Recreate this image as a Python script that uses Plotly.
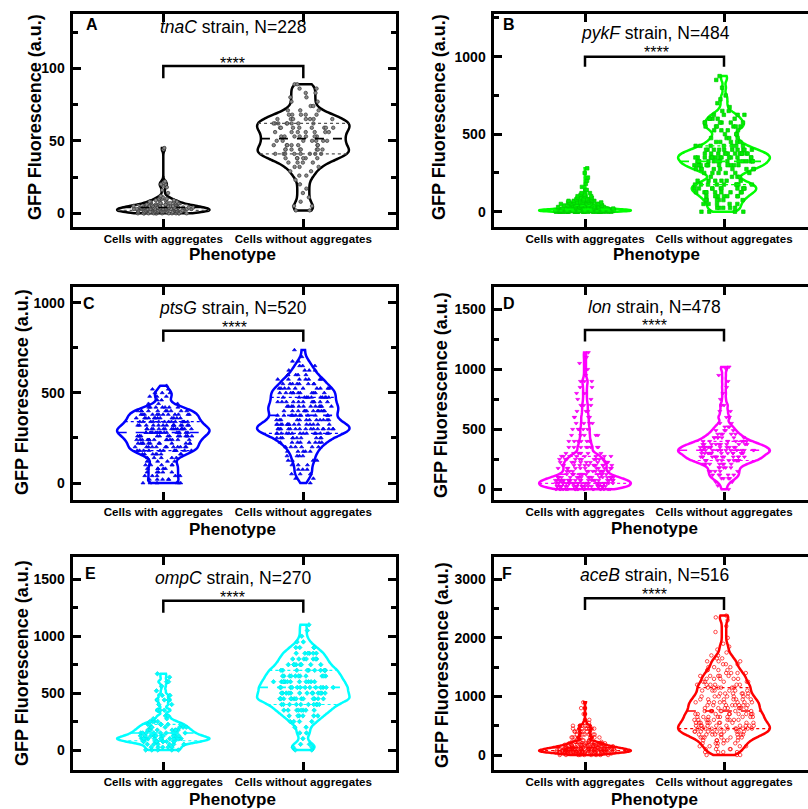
import numpy as np
import plotly.graph_objects as go

W, H = 808, 809
FONT = "Arial, 'Liberation Sans', Helvetica, sans-serif"

# ---------------- data ----------------
CATEGORIES = ["Cells with aggregates", "Cells without aggregates"]
PANEL_LETTERS = ["A", "B", "C", "D", "E", "F"]
GENES = ["tnaC", "pykF", "ptsG", "lon", "ompC", "aceB"]
N_CELLS = [228, 484, 520, 478, 270, 516]
SIGNIFICANCE = "****"
Y_AXIS_TITLE = "GFP Fluorescence (a.u.)"
X_AXIS_TITLE = "Phenotype"

# Frequency tables (value, count) estimated from each violin
A_WITH_VALUES = [0, 1, 2, 3, 4, 5, 6, 7, 8, 9, 10, 11, 12, 14, 16, 18, 19, 20, 21, 22, 44, 45]
A_WITH_COUNTS = [14, 16, 17, 17, 15, 11, 8, 6, 5, 4, 3, 2, 1, 1, 1, 1, 1, 2, 1, 1, 1, 1]
A_WITHOUT_VALUES = [2, 5, 8, 11, 14, 17, 20, 23, 26, 29, 32, 35, 38, 41, 44, 47, 50, 53, 56, 59,
                    62, 65, 68, 71, 74, 77, 80, 83, 86, 89]
A_WITHOUT_COUNTS = [2, 2, 1, 1, 1, 1, 1, 1, 2, 2, 3, 4, 6, 8, 8, 7, 7, 7, 7, 8,
                    8, 7, 5, 3, 2, 2, 2, 2, 2, 2]

B_WITH_VALUES = [0, 5, 10, 15, 20, 30, 40, 50, 60, 70, 80, 90, 100, 110, 120, 140, 160, 180, 200,
                 220, 250, 280]
B_WITH_COUNTS = [30, 45, 40, 30, 22, 15, 14, 13, 10, 7, 5, 3, 3, 2, 2, 2, 1, 1, 1, 1, 1, 1]
B_WITHOUT_VALUES = [0, 25, 50, 75, 100, 125, 150, 175, 200, 225, 250, 275, 300, 325, 350, 375, 400,
                    425, 450, 475, 500, 525, 550, 575, 600, 625, 650, 675, 700, 725, 750, 800, 850, 875]
B_WITHOUT_COUNTS = [4, 5, 5, 6, 7, 9, 10, 9, 6, 4, 6, 9, 12, 13, 14, 13, 10,
                    7, 5, 4, 3, 4, 6, 6, 5, 4, 2, 1, 1, 1, 1, 1, 1, 1]

C_WITH_VALUES = [0, 20, 40, 60, 80, 100, 120, 140, 160, 180, 200, 220, 240, 260, 280, 300, 320, 340,
                 360, 380, 400, 420, 440, 460, 480, 500, 520, 540]
C_WITH_COUNTS = [6, 5, 5, 5, 5, 5, 4, 5, 8, 11, 12, 12, 13, 14, 16, 16, 14, 13,
                 12, 12, 10, 7, 3, 2, 3, 3, 2, 1]
C_WITHOUT_VALUES = [0, 25, 50, 75, 100, 125, 150, 175, 200, 225, 250, 275, 300, 325, 350, 375, 400,
                    425, 450, 475, 500, 525, 550, 575, 600, 625, 650, 675, 700, 738]
C_WITHOUT_COUNTS = [1, 2, 3, 3, 3, 4, 4, 5, 6, 8, 10, 14, 17, 15, 12, 11, 12,
                    12, 11, 11, 11, 10, 8, 7, 5, 4, 3, 2, 1, 1]

D_WITH_VALUES = [0, 25, 50, 75, 100, 125, 150, 175, 200, 225, 250, 275, 300, 350, 400, 450, 500,
                 550, 600, 650, 700, 750, 800, 850, 900, 950, 1000, 1050, 1100, 1140]
D_WITH_COUNTS = [20, 24, 26, 24, 18, 12, 11, 11, 12, 11, 10, 8, 7, 8, 6, 5, 5,
                 4, 4, 3, 3, 2, 2, 2, 3, 1, 1, 1, 1, 1]
D_WITHOUT_VALUES = [0, 30, 60, 90, 120, 150, 180, 210, 240, 270, 300, 325, 350, 375, 400, 430, 460,
                    490, 520, 550, 600, 650, 700, 750, 800, 850, 900, 950, 1000, 1020]
D_WITHOUT_COUNTS = [1, 1, 2, 4, 5, 5, 5, 7, 11, 13, 13, 13, 12, 10, 8, 7, 5,
                    4, 3, 2, 3, 2, 2, 1, 1, 1, 1, 1, 1, 1]

E_WITH_VALUES = [0, 25, 50, 75, 100, 125, 150, 175, 200, 225, 250, 275, 300, 350, 400, 440, 480,
                 520, 560, 600, 640, 670]
E_WITH_COUNTS = [5, 5, 6, 11, 14, 11, 9, 8, 7, 6, 4, 2, 2, 3, 2, 3, 2, 1, 1, 2, 1, 1]
E_WITHOUT_VALUES = [0, 25, 50, 100, 150, 200, 250, 300, 350, 400, 450, 500, 550, 600, 650, 700, 750,
                    800, 850, 900, 950, 1000, 1050, 1100]
E_WITHOUT_COUNTS = [2, 2, 2, 1, 2, 2, 4, 6, 8, 10, 14, 13, 13, 12, 11, 10, 8,
                    7, 6, 4, 2, 1, 1, 1]

F_WITH_VALUES = [0, 25, 50, 75, 100, 125, 150, 175, 200, 225, 250, 300, 350, 400, 450, 500, 550,
                 600, 700, 800, 900]
F_WITH_COUNTS = [9, 16, 26, 29, 25, 20, 16, 12, 10, 7, 5, 8, 6, 6, 7, 6, 2, 1, 1, 1, 1]
F_WITHOUT_VALUES = [0, 50, 100, 150, 200, 250, 300, 350, 400, 450, 500, 550, 600, 650, 700, 750,
                    800, 850, 900, 950, 1000, 1050, 1100, 1150, 1200, 1250, 1300, 1350, 1400, 1450,
                    1500, 1550, 1600, 1650, 1700, 1750, 1800, 1850, 1900, 2000, 2100, 2200, 2300,
                    2350, 2380]
F_WITHOUT_COUNTS = [3, 4, 4, 5, 5, 6, 7, 9, 10, 11, 10, 10, 9, 9, 9, 8,
                    8, 8, 8, 7, 7, 6, 6, 6, 6, 5, 5, 5, 4, 4,
                    3, 3, 3, 2, 2, 1, 1, 1, 1, 1, 1, 1, 1,
                    1, 1]

GROUPS = [
    [(A_WITH_VALUES, A_WITH_COUNTS), (A_WITHOUT_VALUES, A_WITHOUT_COUNTS)],
    [(B_WITH_VALUES, B_WITH_COUNTS), (B_WITHOUT_VALUES, B_WITHOUT_COUNTS)],
    [(C_WITH_VALUES, C_WITH_COUNTS), (C_WITHOUT_VALUES, C_WITHOUT_COUNTS)],
    [(D_WITH_VALUES, D_WITH_COUNTS), (D_WITHOUT_VALUES, D_WITHOUT_COUNTS)],
    [(E_WITH_VALUES, E_WITH_COUNTS), (E_WITHOUT_VALUES, E_WITHOUT_COUNTS)],
    [(F_WITH_VALUES, F_WITH_COUNTS), (F_WITHOUT_VALUES, F_WITHOUT_COUNTS)],
]

# ---------------- styles ----------------
LINE_COLORS = ["#000000", "#00FF00", "#0000FF", "#FF00FF", "#00FFFF", "#FF0000"]
QUART_COLORS = ["#555555", "#00FF00", "#0000FF", "#FF00FF", "#00FFFF", "#FF0000"]
POINT_FILL = ["#8a8a8a", "#00EE00", "#0000FF", "#FF00FF", "#00FFFF", "#FF0000"]
POINT_EDGE = ["#333333", "#00CC00", "#0000DD", "#EE00EE", "#00E5E5", "#FF0000"]
SYMBOLS = ["circle", "square", "triangle-up", "triangle-down", "diamond", "circle-open"]
POINT_SIZE = [3.5, 3.5, 3.5, 3.5, 3.5, 3.5]
BANDWIDTHS = [[1.5, 3.0], [7, 18], [16, 20], [25, 22], [15, 30], [18, 55]]
VIOLIN_WIDTH = 0.66

# ---------------- layout calibration (pixels) ----------------
DOM_X = [(72.5, 395.5), (493.5, 808), (72.5, 395.5), (493.5, 808), (72.5, 395.5), (493.5, 808)]
DOM_Y = [(13.5, 226.5), (13.5, 226.5), (286.5, 499.5), (286.5, 499.5), (556.5, 769.5), (556.5, 769.5)]
X_CAL = [(163.3, 140), (585, 139)] * 3            # (px of category 0, px per unit)
Y_CAL = [(213.3, 1.45), (211.7, 0.155), (483, 0.1803), (489.3, 0.12), (750, 0.1138), (755, 0.05857)]
Y_DTICK = [50, 500, 500, 500, 500, 1000]
BRACKETS = [(93.1, 101.6), (935, 1000), (784, 845), (1231, 1328), (1207, 1312), (2476, 2675)]
TITLE_PX = [(233, 26.7), (655, 33.3), (233, 308), (654, 306.7), (233, 578), (654, 575)]
STAR_PX = [(233, 59.3), (656, 48.3), (235, 323.3), (654, 321.7), (233, 593.3), (654, 590)]
LETTER_PX = [(91.5, 25), (509, 25), (89, 303), (509, 303), (90, 573), (507, 573)]
YTITLE_PX = [(35, 117), (439, 117), (22, 392), (441, 395), (22, 663), (442, 665)]
XTITLE_PX = [(233, 254), (656, 254), (233, 529), (654, 528), (233, 799), (654, 799)]


def px(x):
    return x / W


def py(y):
    return 1 - y / H


def density(vals, bw, t):
    t = np.atleast_1d(np.asarray(t, float))
    return np.exp(-0.5 * ((t[:, None] - vals[None, :]) / bw) ** 2).sum(axis=1)


fig = go.Figure()
annotations = []

for i in range(6):
    sfx = "" if i == 0 else str(i + 1)
    xref, yref = "x" + sfx, "y" + sfx

    for g, (vals, counts) in enumerate(GROUPS[i]):
        data = np.repeat(np.asarray(vals, float), counts)
        bw = BANDWIDTHS[i][g]
        fig.add_trace(go.Violin(
            x0=g, y=data, xaxis=xref, yaxis=yref, name=CATEGORIES[g],
            width=VIOLIN_WIDTH, spanmode="hard", bandwidth=bw, scalemode="width",
            points="all", pointpos=0, jitter=0.65,
            line=dict(color=LINE_COLORS[i], width=2.5),
            fillcolor="rgba(255,255,255,0)",
            marker=dict(symbol=SYMBOLS[i], size=POINT_SIZE[i], color=POINT_FILL[i],
                        line=dict(color=POINT_EDGE[i], width=0.7)),
            box_visible=False, meanline_visible=False, showlegend=False,
            hoverinfo="y",
        ))
        grid = np.linspace(data.min(), data.max(), 600)
        dmax = density(data, bw, grid).max()
        q1, med, q3 = np.percentile(data, [25, 50, 75])
        for q, dash, lw in [(q1, "dot", 1.2), (med, "dash", 1.6), (q3, "dot", 1.2)]:
            hw = VIOLIN_WIDTH / 2 * density(data, bw, q)[0] / dmax
            fig.add_trace(go.Scatter(
                x=[g - hw, g + hw], y=[q, q], xaxis=xref, yaxis=yref, mode="lines",
                line=dict(color=QUART_COLORS[i] if dash == "dot" else LINE_COLORS[i],
                          width=lw, dash=dash),
                hoverinfo="skip", showlegend=False,
            ))

    b0, b1 = BRACKETS[i]
    fig.add_trace(go.Scatter(
        x=[0, 0, 1, 1], y=[b0, b1, b1, b0], xaxis=xref, yaxis=yref, mode="lines",
        line=dict(color="black", width=2.5), hoverinfo="skip", showlegend=False,
        cliponaxis=False,
    ))

    (dl, dr), (dt, db) = DOM_X[i], DOM_Y[i]
    c0, xppu = X_CAL[i]
    y0, yppu = Y_CAL[i]
    xr = [(dl - c0) / xppu, (dr - c0) / xppu]
    yr = [(y0 - db) / yppu, (y0 - dt) / yppu]
    right_col = (i % 2 == 1)

    fig.layout["xaxis" + sfx] = dict(
        domain=[px(dl), px(dr)], range=xr, anchor=yref, type="linear",
        tickmode="array", tickvals=[0, 1], ticktext=CATEGORIES,
        ticks="inside", ticklen=8, tickwidth=3, tickcolor="black",
        showline=True, linewidth=3, linecolor="black", mirror="ticks",
        showgrid=False, zeroline=False, ticklabelstandoff=0,
        tickfont=dict(family=FONT, size=11.6, color="black", weight="bold"),
        fixedrange=True,
    )
    fig.layout["yaxis" + sfx] = dict(
        domain=[py(db), py(dt)], range=yr, anchor=xref,
        tick0=0, dtick=Y_DTICK[i],
        ticks="inside", ticklen=8, tickwidth=3, tickcolor="black",
        minor=dict(ticks="inside", ticklen=5, tickwidth=2.5, tickcolor="black",
                   dtick=Y_DTICK[i] / 2, tick0=0, showgrid=False),
        showline=True, linewidth=3, linecolor="black",
        mirror=False if right_col else "ticks",
        showgrid=False, zeroline=False, ticklabelstandoff=2,
        tickfont=dict(family=FONT, size=14, color="black", weight="bold"),
        fixedrange=True,
    )

    tx, ty = TITLE_PX[i]
    annotations.append(dict(
        x=px(tx), y=py(ty), xref="paper", yref="paper", showarrow=False,
        text=f"<i>{GENES[i]}</i> strain, N={N_CELLS[i]}",
        font=dict(family=FONT, size=17.5, color="black"),
        xanchor="center", yanchor="middle"))
    sx, sy = STAR_PX[i]
    annotations.append(dict(
        x=px(sx), y=py(sy + 4), xref="paper", yref="paper", showarrow=False,
        text=SIGNIFICANCE, font=dict(family=FONT, size=16, color="black"),
        xanchor="center", yanchor="middle"))
    lx, ly = LETTER_PX[i]
    annotations.append(dict(
        x=px(lx), y=py(ly), xref="paper", yref="paper", showarrow=False,
        text=PANEL_LETTERS[i], font=dict(family=FONT, size=16, color="black", weight="bold"),
        xanchor="center", yanchor="middle"))
    yx, yy = YTITLE_PX[i]
    annotations.append(dict(
        x=px(yx), y=py(yy), xref="paper", yref="paper", showarrow=False,
        text=Y_AXIS_TITLE, textangle=-90,
        font=dict(family=FONT, size=18, color="black", weight="bold"),
        xanchor="center", yanchor="middle"))
    xx, xy = XTITLE_PX[i]
    annotations.append(dict(
        x=px(xx), y=py(xy), xref="paper", yref="paper", showarrow=False,
        text=X_AXIS_TITLE, font=dict(family=FONT, size=17, color="black", weight="bold"),
        xanchor="center", yanchor="middle"))

fig.update_layout(
    width=W, height=H, margin=dict(l=0, r=0, t=0, b=0),
    paper_bgcolor="white", plot_bgcolor="white",
    violinmode="overlay", showlegend=False,
    annotations=annotations,
    font=dict(family=FONT, color="black"),
)

fig.write_html(
    "out.html",
    config={"displayModeBar": False},
    post_script="document.body.style.margin='0';document.body.style.overflow='hidden';",
)
